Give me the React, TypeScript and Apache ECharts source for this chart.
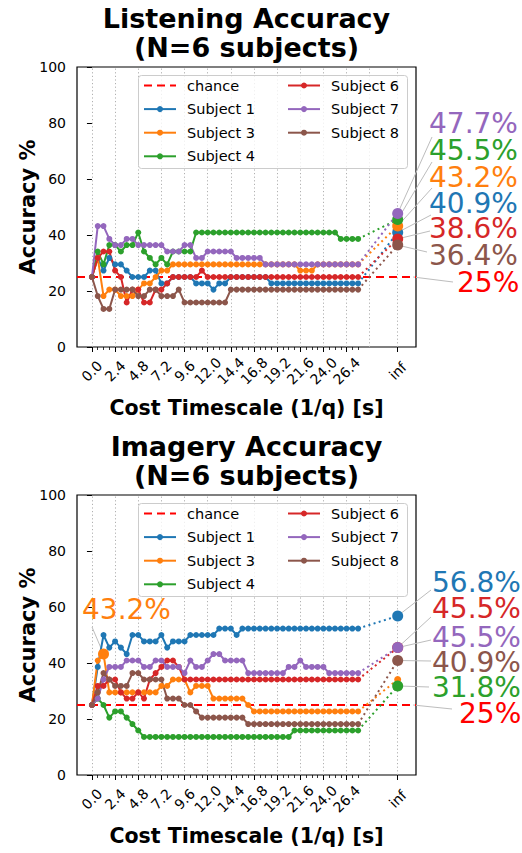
import React, { useEffect, useRef } from "react";
import * as echarts from "echarts";

const FONT = "DejaVu Sans";

const SUBJECTS = ["Subject 1", "Subject 3", "Subject 4", "Subject 6", "Subject 7", "Subject 8"];
const COLORS = ["#1f77b4", "#ff7f0e", "#2ca02c", "#d62728", "#9467bd", "#8c564b"];
const CHANCE_COLOR = "#ff0000";

// x positions of the per-timescale points (s)
const COST_TIMESCALE = [
  0.0, 0.6, 1.2, 1.8, 2.4, 3.0, 3.6, 4.2, 4.8, 5.4,
  6.0, 6.6, 7.2, 7.8, 8.4, 9.0, 9.6, 10.2, 10.8, 11.4,
  12.0, 12.6, 13.2, 13.8, 14.4, 15.0, 15.6, 16.2, 16.8, 17.4,
  18.0, 18.6, 19.2, 19.8, 20.4, 21.0, 21.6, 22.2, 22.8, 23.4,
  24.0, 24.6, 25.2, 25.8, 26.4, 27.0, 27.6,
];
const X_TICKS = [0.0, 2.4, 4.8, 7.2, 9.6, 12.0, 14.4, 16.8, 19.2, 21.6, 24.0, 26.4];
const X_GRID = [0.0, 2.4, 4.8, 7.2, 9.6, 12.0, 14.4, 16.8, 19.2, 21.6, 24.0, 26.4, 28.8];
const INF_X = 31.7;
const INF_LABEL = "inf";
const X_MIN = -1.55;
const X_MAX = 33.6;
const CHANCE = 25.0;
const CHANCE_NOTE_X = 33.3;

// ---------- Listening accuracy (%) ----------
const LISTEN_S1 = [
  25.0, 31.8, 27.3, 31.8, 29.5, 29.5, 27.3, 25.0, 25.0, 25.0,
  27.3, 27.3, 22.7, 22.7, 25.0, 25.0, 25.0, 25.0, 22.7, 22.7,
  22.7, 20.5, 22.7, 22.7, 25.0, 25.0, 25.0, 25.0, 25.0, 25.0,
  25.0, 22.7, 22.7, 22.7, 22.7, 22.7, 22.7, 22.7, 22.7, 22.7,
  22.7, 22.7, 22.7, 22.7, 22.7, 22.7, 22.7,
];
const LISTEN_S3 = [
  25.0, 31.8, 18.2, 20.5, 20.5, 18.2, 18.2, 18.2, 20.5, 22.7,
  22.7, 25.0, 27.3, 27.3, 29.5, 29.5, 29.5, 29.5, 29.5, 29.5,
  29.5, 29.5, 29.5, 29.5, 29.5, 29.5, 29.5, 29.5, 29.5, 29.5,
  29.5, 29.5, 29.5, 29.5, 29.5, 29.5, 27.3, 27.3, 27.3, 29.5,
  29.5, 29.5, 29.5, 29.5, 29.5, 29.5, 29.5,
];
const LISTEN_S4 = [
  25.0, 34.1, 29.5, 36.4, 36.4, 34.1, 36.4, 36.4, 40.9, 34.1,
  31.8, 29.5, 31.8, 29.5, 34.1, 34.1, 34.1, 34.1, 40.9, 40.9,
  40.9, 40.9, 40.9, 40.9, 40.9, 40.9, 40.9, 40.9, 40.9, 40.9,
  40.9, 40.9, 40.9, 40.9, 40.9, 40.9, 40.9, 40.9, 40.9, 40.9,
  40.9, 40.9, 40.9, 38.6, 38.6, 38.6, 38.6,
];
const LISTEN_S6 = [
  25.0, 31.8, 34.1, 34.1, 27.3, 25.0, 15.9, 20.5, 20.5, 15.9,
  15.9, 20.5, 20.5, 22.7, 25.0, 25.0, 25.0, 25.0, 25.0, 27.3,
  25.0, 25.0, 25.0, 25.0, 25.0, 25.0, 25.0, 25.0, 25.0, 25.0,
  25.0, 25.0, 25.0, 25.0, 25.0, 25.0, 25.0, 25.0, 25.0, 25.0,
  25.0, 25.0, 25.0, 25.0, 25.0, 25.0, 25.0,
];
const LISTEN_S7 = [
  25.0, 43.2, 43.2, 38.6, 36.4, 36.4, 38.6, 38.6, 36.4, 36.4,
  36.4, 36.4, 36.4, 34.1, 34.1, 34.1, 36.4, 36.4, 31.8, 31.8,
  34.1, 34.1, 34.1, 34.1, 34.1, 31.8, 31.8, 31.8, 31.8, 31.8,
  29.5, 29.5, 29.5, 29.5, 29.5, 29.5, 29.5, 29.5, 29.5, 29.5,
  29.5, 29.5, 29.5, 29.5, 29.5, 29.5, 29.5,
];
const LISTEN_S8 = [
  25.0, 18.2, 13.6, 13.6, 20.5, 20.5, 20.5, 20.5, 18.2, 18.2,
  20.5, 20.5, 18.2, 18.2, 18.2, 20.5, 15.9, 15.9, 15.9, 15.9,
  15.9, 15.9, 15.9, 15.9, 20.5, 20.5, 20.5, 20.5, 20.5, 20.5,
  20.5, 20.5, 20.5, 20.5, 20.5, 20.5, 20.5, 20.5, 20.5, 20.5,
  20.5, 20.5, 20.5, 20.5, 20.5, 20.5, 20.5,
];
// accuracy at q -> inf, order: S1, S3, S4, S6, S7, S8
const LISTEN_INF = [40.9, 43.2, 45.5, 38.6, 47.7, 36.4];

// ---------- Imagery accuracy (%) ----------
const IMAGERY_S1 = [
  25.0, 38.6, 50.0, 45.5, 47.7, 45.5, 43.2, 50.0, 50.0, 47.7,
  47.7, 47.7, 50.0, 45.5, 47.7, 47.7, 47.7, 50.0, 50.0, 50.0,
  50.0, 50.0, 52.3, 52.3, 52.3, 50.0, 52.3, 52.3, 52.3, 52.3,
  52.3, 52.3, 52.3, 52.3, 52.3, 52.3, 52.3, 52.3, 52.3, 52.3,
  52.3, 52.3, 52.3, 52.3, 52.3, 52.3, 52.3,
];
const IMAGERY_S3 = [
  25.0, 40.9, 43.2, 29.5, 29.5, 29.5, 29.5, 29.5, 29.5, 29.5,
  29.5, 29.5, 31.8, 31.8, 34.1, 34.1, 34.1, 29.5, 31.8, 31.8,
  31.8, 27.3, 27.3, 27.3, 27.3, 27.3, 27.3, 25.0, 22.7, 22.7,
  22.7, 22.7, 22.7, 22.7, 22.7, 22.7, 22.7, 22.7, 22.7, 22.7,
  22.7, 22.7, 22.7, 22.7, 22.7, 22.7, 22.7,
];
const IMAGERY_S4 = [
  25.0, 27.3, 25.0, 20.5, 22.7, 22.7, 20.5, 18.2, 15.9, 13.6,
  13.6, 13.6, 13.6, 13.6, 13.6, 13.6, 13.6, 13.6, 13.6, 13.6,
  13.6, 13.6, 13.6, 13.6, 13.6, 13.6, 13.6, 13.6, 13.6, 13.6,
  13.6, 13.6, 13.6, 13.6, 13.6, 15.9, 15.9, 15.9, 15.9, 15.9,
  15.9, 15.9, 15.9, 15.9, 15.9, 15.9, 15.9,
];
const IMAGERY_S6 = [
  25.0, 31.8, 31.8, 34.1, 34.1, 29.5, 27.3, 27.3, 29.5, 27.3,
  34.1, 36.4, 38.6, 40.9, 40.9, 38.6, 34.1, 34.1, 34.1, 34.1,
  34.1, 34.1, 34.1, 34.1, 34.1, 34.1, 34.1, 34.1, 34.1, 34.1,
  34.1, 34.1, 34.1, 34.1, 34.1, 34.1, 34.1, 34.1, 34.1, 34.1,
  34.1, 34.1, 34.1, 34.1, 34.1, 34.1, 34.1,
];
const IMAGERY_S7 = [
  25.0, 27.3, 34.1, 38.6, 38.6, 38.6, 40.9, 40.9, 40.9, 38.6,
  38.6, 40.9, 40.9, 38.6, 38.6, 38.6, 36.4, 40.9, 38.6, 38.6,
  40.9, 43.2, 43.2, 40.9, 40.9, 40.9, 40.9, 36.4, 36.4, 36.4,
  36.4, 36.4, 36.4, 36.4, 38.6, 38.6, 40.9, 38.6, 38.6, 38.6,
  38.6, 36.4, 36.4, 36.4, 36.4, 36.4, 36.4,
];
const IMAGERY_S8 = [
  25.0, 29.5, 36.4, 34.1, 31.8, 31.8, 31.8, 36.4, 36.4, 34.1,
  34.1, 34.1, 34.1, 27.3, 27.3, 27.3, 25.0, 25.0, 22.7, 20.5,
  20.5, 20.5, 20.5, 20.5, 20.5, 20.5, 20.5, 18.2, 18.2, 18.2,
  18.2, 18.2, 18.2, 18.2, 18.2, 18.2, 18.2, 18.2, 18.2, 18.2,
  18.2, 18.2, 18.2, 18.2, 18.2, 18.2, 18.2,
];
const IMAGERY_INF = [56.8, 34.1, 31.8, 45.5, 45.5, 40.9];

const TITLES = [
  ["Listening Accuracy", "(N=6 subjects)"],
  ["Imagery Accuracy", "(N=6 subjects)"],
];
const X_NAME = "Cost Timescale (1/q) [s]";
const Y_NAME = "Accuracy %";

// ---------- layout ----------
const GRID_LEFT = 77;
const GRID_WIDTH = 339;
const GRID_HEIGHT = 280;
const GRID_TOPS = [67, 495];

type Note = { s: number; at: "inf" | number; tx: number; ty: number; lx: number; ly: number };
const NOTES: Note[][] = [
  [
    { s: 4, at: "inf", tx: 429, ty: 123, lx: 432, ly: 137 },
    { s: 2, at: "inf", tx: 429, ty: 150, lx: 432, ly: 162 },
    { s: 1, at: "inf", tx: 429, ty: 177, lx: 432, ly: 188 },
    { s: 0, at: "inf", tx: 429, ty: 203, lx: 431, ly: 215 },
    { s: 3, at: "inf", tx: 429, ty: 228, lx: 430, ly: 231 },
    { s: 5, at: "inf", tx: 429, ty: 255, lx: 427, ly: 252 },
  ],
  [
    { s: 0, at: "inf", tx: 432, ty: 582, lx: 431, ly: 590 },
    { s: 3, at: "inf", tx: 432, ty: 608, lx: 431, ly: 617 },
    { s: 4, at: "inf", tx: 432, ty: 637, lx: 431, ly: 640 },
    { s: 5, at: "inf", tx: 432, ty: 662, lx: 431, ly: 661 },
    { s: 2, at: "inf", tx: 432, ty: 687, lx: 429, ly: 687 },
    { s: 1, at: 2, tx: 82, ty: 609, lx: 92, ly: 627 },
  ],
];
const CHANCE_NOTES = [
  { tx: 457, ty: 282, lx: 453, ly: 282 },
  { tx: 459, ty: 713, lx: 452, ly: 709 },
];

const PLOTS = [
  { values: [LISTEN_S1, LISTEN_S3, LISTEN_S4, LISTEN_S6, LISTEN_S7, LISTEN_S8], inf: LISTEN_INF },
  { values: [IMAGERY_S1, IMAGERY_S3, IMAGERY_S4, IMAGERY_S6, IMAGERY_S7, IMAGERY_S8], inf: IMAGERY_INF },
];

const fmtTick = (v: number) => (Math.abs(v - INF_X) < 1e-6 ? INF_LABEL : v.toFixed(1));

function buildOption() {
  const grid: any[] = [];
  const xAxis: any[] = [];
  const yAxis: any[] = [];
  const legend: any[] = [];
  const series: any[] = [];

  PLOTS.forEach((plot, p) => {
    const top = GRID_TOPS[p];
    grid.push({
      left: GRID_LEFT, top, width: GRID_WIDTH, height: GRID_HEIGHT,
      show: true, borderColor: "#000", borderWidth: 1.2, backgroundColor: "transparent",
      containLabel: false,
    });
    xAxis.push({
      type: "value", gridIndex: p, min: X_MIN, max: X_MAX, position: "bottom",
      axisLine: { show: false },
      axisTick: { show: true, customValues: [...X_TICKS, INF_X], length: 5, lineStyle: { color: "#000", width: 1 } },
      axisLabel: {
        show: true, customValues: [...X_TICKS, INF_X], rotate: 45, align: "center", verticalAlign: "middle",
        margin: 24, fontSize: 14, fontFamily: FONT, color: "#000", formatter: fmtTick, hideOverlap: false,
      },
      splitLine: { show: false },
    });
    xAxis.push({
      type: "value", gridIndex: p, min: X_MIN, max: X_MAX, position: "bottom", offset: 0,
      axisLine: { show: false },
      axisTick: { show: true, customValues: COST_TIMESCALE, length: 3, lineStyle: { color: "#000", width: 0.8 } },
      axisLabel: { show: false },
      splitLine: { show: false },
    });
    yAxis.push({
      type: "value", gridIndex: p, min: 0, max: 100, interval: 20,
      axisLine: { show: false },
      axisTick: { show: true, length: 5, lineStyle: { color: "#000", width: 1 } },
      axisLabel: { fontSize: 14, fontFamily: FONT, color: "#000", margin: 11 },
      splitLine: { show: false },
    });

    const legendCommon = {
      orient: "vertical", padding: 0, itemWidth: 32, itemHeight: 7.5, itemGap: 8.6,
      selectedMode: false, z: 10, top: top + 11,
      textStyle: { fontSize: 14.5, fontFamily: FONT, color: "#000", padding: [0, 0, 0, 6] },
    };
    legend.push({ ...legendCommon, left: 143, data: [{ name: "chance", itemStyle: { opacity: 0 } }, SUBJECTS[0], SUBJECTS[1], SUBJECTS[2]] });
    legend.push({ ...legendCommon, left: 287, data: [SUBJECTS[3], SUBJECTS[4], SUBJECTS[5]] });

    const xi = 2 * p;
    const yi = p;
    // dotted vertical grid lines
    series.push({
      type: "line", name: "_grid" + p, xAxisIndex: xi, yAxisIndex: yi,
      data: [[X_MIN, 0]], symbol: "none", lineStyle: { opacity: 0 }, silent: true, z: 0,
      markLine: {
        silent: true, symbol: ["none", "none"], z: 0, label: { show: false },
        lineStyle: { color: "#b0b0b0", type: [1.2, 2.4], width: 1 },
        emphasis: { disabled: true },
        data: [...X_GRID, INF_X].map((x) => ({ xAxis: x })),
      },
    });
    // chance line
    series.push({
      type: "line", name: "chance", xAxisIndex: xi, yAxisIndex: yi,
      data: [[X_MIN, CHANCE], [X_MAX, CHANCE]], symbol: "none", color: CHANCE_COLOR,
      lineStyle: { color: CHANCE_COLOR, width: 2, type: [8, 5] }, silent: true, z: 1,
    });

    plot.values.forEach((vals, s) => {
      const color = COLORS[s];
      const last = vals.length - 1;
      series.push({
        type: "line", name: SUBJECTS[s], xAxisIndex: xi, yAxisIndex: yi,
        data: COST_TIMESCALE.map((x, i) => [x, vals[i]]),
        symbol: "circle", symbolSize: 6, showSymbol: true, showAllSymbol: true,
        color, lineStyle: { width: 2, color }, itemStyle: { color },
        emphasis: { disabled: true }, silent: true, z: 2,
      });
      series.push({
        type: "line", name: "_tail" + p + "_" + s, xAxisIndex: xi, yAxisIndex: yi,
        data: [[COST_TIMESCALE[last], vals[last]], [INF_X, plot.inf[s]]],
        symbol: "none", color, lineStyle: { width: 2, color, type: [2, 3.4] }, silent: true, z: 2,
      });
      const notes = NOTES[p].filter((n) => n.s === s);
      const infBig = notes.some((n) => n.at === "inf");
      const pts: any[] = [{ value: [INF_X, plot.inf[s]], symbolSize: infBig ? 11 : 7 }];
      notes.forEach((n) => {
        if (n.at !== "inf") pts.push({ value: [COST_TIMESCALE[n.at], vals[n.at]], symbolSize: 11 });
      });
      series.push({
        type: "scatter", name: "_pts" + p + "_" + s, xAxisIndex: xi, yAxisIndex: yi,
        data: pts, symbol: "circle", color, itemStyle: { color, opacity: 1 },
        emphasis: { disabled: true }, silent: true, z: 2,
      });
    });
  });

  return { animation: false, grid, xAxis, yAxis, legend, series };
}

function buildGraphics(chart: any) {
  const g: any[] = [];
  PLOTS.forEach((plot, p) => {
    const top = GRID_TOPS[p];
    const cx = GRID_LEFT + GRID_WIDTH / 2;
    TITLES[p].forEach((line, k) => {
      g.push({
        type: "text", x: cx, y: top - 49 + k * 29, z: 20,
        style: { text: line, fontSize: 27, fontWeight: "bold", fontFamily: FONT, fill: "#000", align: "center", verticalAlign: "middle" },
      });
    });
    g.push({
      type: "text", x: cx, y: top + GRID_HEIGHT + 61, z: 20,
      style: { text: X_NAME, fontSize: 20.5, fontWeight: "bold", fontFamily: FONT, fill: "#000", align: "center", verticalAlign: "middle" },
    });
    g.push({
      type: "text", x: 28, y: top + GRID_HEIGHT / 2, rotation: Math.PI / 2, z: 20,
      style: { text: Y_NAME, fontSize: 21, fontWeight: "bold", fontFamily: FONT, fill: "#000", align: "center", verticalAlign: "middle" },
    });
    // legend frame
    g.push({
      type: "rect", z: 9,
      shape: { x: 138.5, y: top + 8.5, width: 269, height: 93, r: 3 },
      style: { fill: "rgba(255,255,255,0.8)", stroke: "#cccccc", lineWidth: 1 },
    });

    const coord = { xAxisIndex: 2 * p, yAxisIndex: p };
    NOTES[p].forEach((n) => {
      const vals = plot.values[n.s];
      const v = n.at === "inf" ? plot.inf[n.s] : vals[n.at];
      const x = n.at === "inf" ? INF_X : COST_TIMESCALE[n.at];
      const pt = chart.convertToPixel(coord, [x, v]);
      g.push({
        type: "line", z: 1,
        shape: { x1: n.lx, y1: n.ly, x2: pt[0], y2: pt[1] },
        style: { stroke: "#bdbdbd", lineWidth: 1 },
      });
      g.push({
        type: "text", x: n.tx, y: n.ty, z: 20,
        style: { text: v.toFixed(1) + "%", fontSize: 28, fontFamily: FONT, fill: COLORS[n.s], align: "left", verticalAlign: "middle" },
      });
    });
    const cn = CHANCE_NOTES[p];
    const cp = chart.convertToPixel(coord, [CHANCE_NOTE_X, CHANCE]);
    g.push({
      type: "line", z: 1,
      shape: { x1: cn.lx, y1: cn.ly, x2: cp[0], y2: cp[1] },
      style: { stroke: "#bdbdbd", lineWidth: 1 },
    });
    g.push({
      type: "text", x: cn.tx, y: cn.ty, z: 20,
      style: { text: CHANCE.toFixed(0) + "%", fontSize: 28, fontFamily: FONT, fill: CHANCE_COLOR, align: "left", verticalAlign: "middle" },
    });
  });
  return g;
}

export default function App() {
  const ref = useRef<HTMLDivElement>(null);
  useEffect(() => {
    document.body.style.margin = "0";
    const el = ref.current;
    if (!el) return;
    const chart = echarts.init(el, null, { renderer: "svg" });
    chart.setOption(buildOption() as any);
    chart.setOption({ graphic: buildGraphics(chart) } as any);
    return () => chart.dispose();
  }, []);
  return (
    <div
      ref={ref}
      style={{ position: "absolute", left: 0, top: 0, width: 522, height: 853, background: "#fff" }}
    />
  );
}
